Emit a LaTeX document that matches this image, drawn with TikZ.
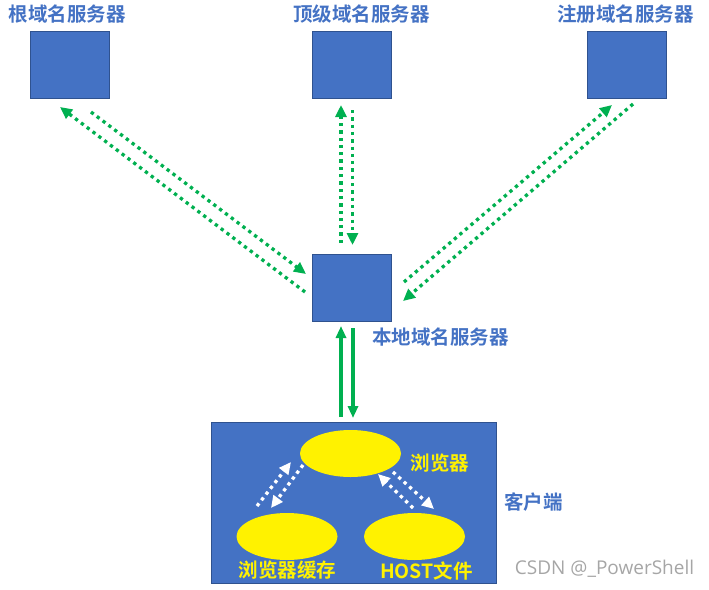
\documentclass[tikz,border=0pt]{standalone}
\usepackage{fontspec}
\setmainfont{Noto Sans CJK SC}[BoldFont={Noto Sans CJK SC Bold}]
\newfontfamily\wmfont{Open Sans}
\usetikzlibrary{arrows.meta,shapes.geometric}
\definecolor{boxblue}{HTML}{4472C4}
\definecolor{boxedge}{HTML}{2F528F}
\definecolor{dgreen}{HTML}{00B050}
\definecolor{wmgray}{HTML}{A6A6A6}
\tikzset{
  server/.style={draw=boxedge, line width=1pt, fill=boxblue, minimum width=79pt, minimum height=67pt, inner sep=0pt},
  lbl/.style={text=boxblue, font=\fontsize{19.5}{20}\selectfont\bfseries, inner sep=0pt},
  ylbl/.style={text=yellow, font=\fontsize{19.5}{20}\selectfont\bfseries, inner sep=0pt},
  oval/.style={ellipse, fill=yellow, minimum width=101pt, minimum height=47pt, inner sep=0pt},
  gdot/.style={draw=dgreen, line width=3.3pt, dash pattern=on 3.3pt off 4pt, -{Triangle[length=12pt,width=11pt]}},
  wdot/.style={draw=white, line width=3.3pt, dash pattern=on 3.3pt off 4pt, -{Triangle[length=12pt,width=11pt]}},
  gsolid/.style={draw=dgreen, line width=3.3pt, -{Triangle[length=12pt,width=10pt]}},
}
\begin{document}
\begin{tikzpicture}[x=1pt,y=-1pt]
\useasboundingbox (0,0) rectangle (709,589);
% servers
\node[server] (root) at (69.5,64.5) {};
\node[server] (tld) at (352,64.5) {};
\node[server] (reg) at (626.5,64.5) {};
\node[server] (local) at (352,288) {};
\node[lbl] (rootl) at (67.5,14.5) {根域名服务器};
\node[lbl] (tldl) at (361.5,14.5) {顶级域名服务器};
\node[lbl] (regl) at (625.5,14.5) {注册域名服务器};
\node[lbl] (locall) at (440.5,337) {本地域名服务器};
% client
\node[draw=boxedge, line width=1pt, fill=boxblue, minimum width=285pt, minimum height=161pt, inner sep=0pt] (client) at (353.5,502.5) {};
\node[lbl] (clientl) at (533.5,502) {客户端};
\node[oval] (browser) at (350.5,453.5) {};
\node[oval] (cache) at (287,536.5) {};
\node[oval] (host) at (414.5,536.5) {};
\node[ylbl] (browserl) at (440,463) {浏览器};
\node[ylbl] (cachel) at (287.5,570.5) {浏览器缓存};
\node[ylbl] (hostl) at (426.5,570.5) {HOST文件};
\node[text=wmgray, font=\wmfont\fontsize{19}{20}\selectfont, inner sep=0pt] (wm) at (604.5,569) {CSDN @\_PowerShell};
% endpoints
\coordinate (a1) at (305,292); \coordinate (a2) at (60,107);
\coordinate (b1) at (91,112); \coordinate (b2) at (306,274);
\coordinate (c1) at (341,243); \coordinate (c2) at (341,105);
\coordinate (d1) at (352.5,110); \coordinate (d2) at (352.5,245);
\coordinate (e1) at (404,282); \coordinate (e2) at (612,105);
\coordinate (f1) at (633,104); \coordinate (f2) at (403,301);
\coordinate (g1) at (341,417); \coordinate (g2) at (341,326);
\coordinate (h1) at (353,328); \coordinate (h2) at (353,418);
\coordinate (i1) at (257,506); \coordinate (i2) at (291,462);
\coordinate (j1) at (303,465); \coordinate (j2) at (271,508);
\coordinate (k1) at (413,508); \coordinate (k2) at (378,474);
\coordinate (l1) at (393,472); \coordinate (l2) at (434,509);
% connectors
\draw[gdot] (a1) -- (a2);
\draw[gdot] (b1) -- (b2);
\draw[gdot] (c1) -- (c2);
\draw[gdot] (d1) -- (d2);
\draw[gdot] (e1) -- (e2);
\draw[gdot] (f1) -- (f2);
\draw[gsolid] (g1) -- (g2);
\draw[gsolid] (h1) -- (h2);
\draw[wdot] (i1) -- (i2);
\draw[wdot] (j1) -- (j2);
\draw[wdot] (k1) -- (k2);
\draw[wdot] (l1) -- (l2);
\end{tikzpicture}
\end{document}
